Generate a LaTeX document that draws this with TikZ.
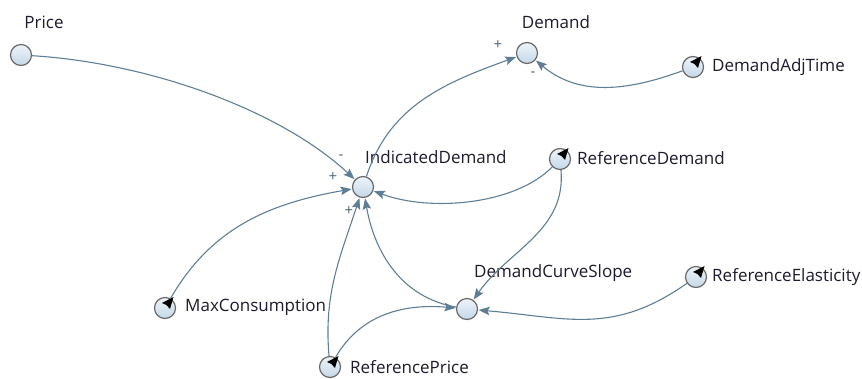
\documentclass[tikz,border=0pt]{standalone}
\usepackage{fontspec}
\setmainfont{Open Sans}
\usetikzlibrary{arrows.meta,calc}
\definecolor{edgec}{HTML}{5E7E96}
\definecolor{nodefill}{HTML}{C4D8E8}
\definecolor{nodeline}{HTML}{6A6A6A}
\definecolor{txt}{HTML}{1E1A2E}
\begin{document}
\begin{tikzpicture}[x=1pt,y=-1pt,
  var/.style={circle,draw=nodeline,line width=1.2pt,inner sep=0pt,minimum size=21pt,top color=white!70!nodefill,bottom color=nodefill},
  lbl/.style={font=\fontsize{17}{19}\selectfont,text=txt,inner sep=0pt},
  sgn/.style={font=\fontsize{15}{16}\selectfont,text=edgec!80!black,inner sep=0pt},
  link/.style={draw=edgec,line width=1.1pt,-{Stealth[length=11pt,width=8.5pt,inset=2pt]},shorten >=0.5pt}]
\useasboundingbox (0,0) rectangle (862,378);
% nodes
\node[var] (price) at (21,55) {};
\node[var] (demand) at (527,53) {};
\node[var] (adj) at (693,67) {};
\node[var] (ind) at (363,187) {};
\node[var] (refd) at (560,159) {};
\node[var] (dcs) at (467,309) {};
\node[var] (refe) at (696,277) {};
\node[var] (maxc) at (165,308) {};
\node[var] (refp) at (330,367) {};
% constant pointers
\foreach \n in {adj,refd,refe,maxc,refp}{
  \fill[black] ($(\n)+(8.5,-11)$) -- ($(\n)+(-3,-5)$) -- ($(\n)+(1.5,-3)$) -- ($(\n)+(5,1)$) -- cycle;
}
% labels
\node[lbl] (lprice) at (44,22) {Price};
\node[lbl] (ldemand) at (556,22) {Demand};
\node[lbl,anchor=west] (ladj) at (712,67) {DemandAdjTime};
\node[lbl,anchor=west] (lind) at (365,157) {IndicatedDemand};
\node[lbl,anchor=west] (lrefd) at (577,158) {ReferenceDemand};
\node[lbl,anchor=west] (ldcs) at (474,273) {DemandCurveSlope};
\node[lbl,anchor=west] (lrefe) at (712,277) {ReferenceElasticity};
\node[lbl,anchor=west] (lmaxc) at (185,307) {MaxConsumption};
\node[lbl,anchor=west] (lrefp) at (350,367) {ReferencePrice};
% links
\path[link] (price) .. controls (150,63) and (280,110) .. (ind);
\path[link] (ind) to[out=72,in=200] (demand);
\path[link] (adj) to[out=200,in=-40] (demand);
\path[link] (refd) .. controls (515,205) and (430,212) .. (ind);
\path[link] (maxc) to[out=60,in=190] (ind);
\path[link] (refp) to[out=95,in=252] (ind);
\path[link] (dcs) to[out=170,in=280] (ind);
\path[link] (refp) to[out=60,in=175] (dcs);
\path[link] (refd) to[out=-85,in=55] (dcs);
\path[link] (refe) to[out=215,in=-5,looseness=1.1] (dcs);
% signs
\node[sgn] (s1) at (341,157) {-};
\node[sgn] (s2) at (333,177) {+};
\node[sgn] (s3) at (349,211) {+};
\node[sgn] (s4) at (498,45) {+};
\node[sgn] (s5) at (533,74) {-};
\end{tikzpicture}
\end{document}
